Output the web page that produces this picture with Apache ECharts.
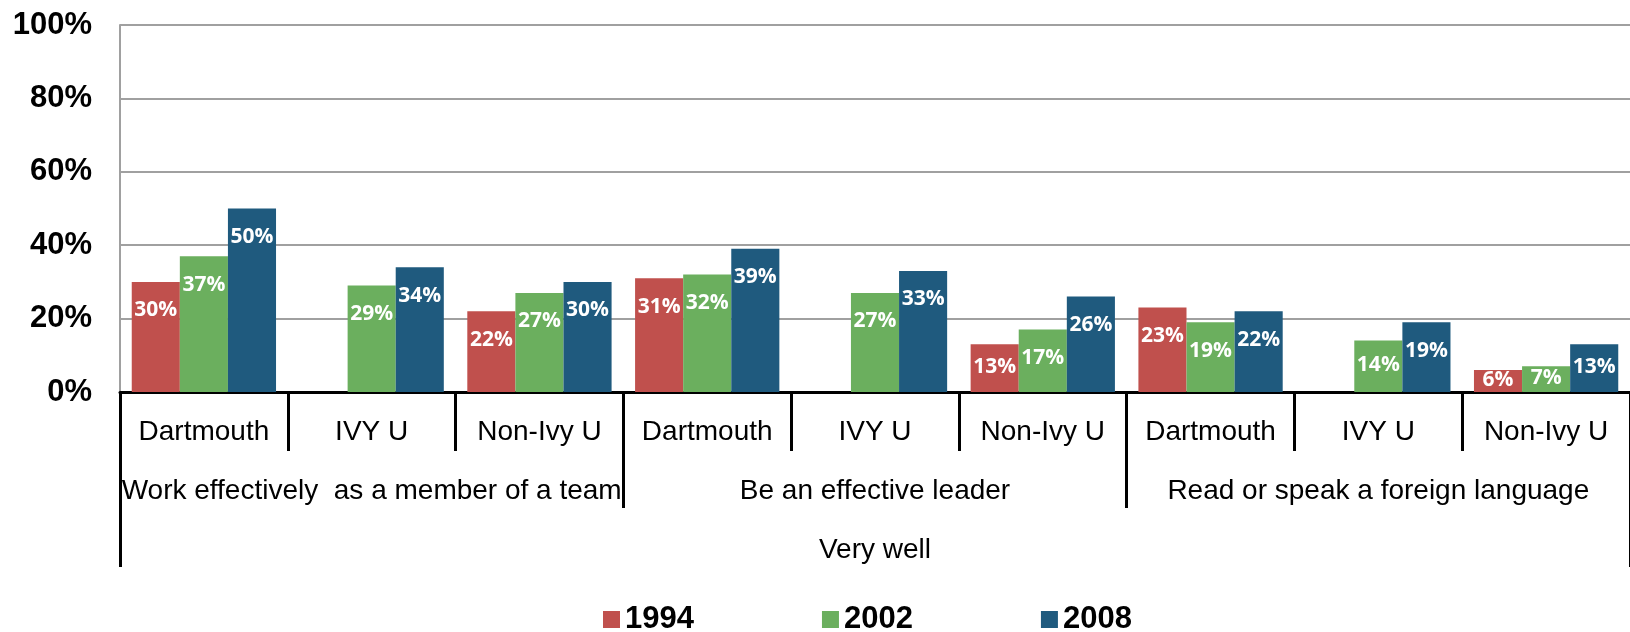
<!DOCTYPE html>
<html>
<head>
<meta charset="utf-8">
<title>Very well</title>
<script src="https://cdn.jsdelivr.net/npm/echarts@6/dist/echarts.min.js"></script>
<style>
    html, body { margin: 0; padding: 0; background: #fff; overflow: hidden; }
    #chart { width: 1630px; height: 632px; }
</style>
</head>
<body>
<div id="chart"></div>
<script>
// sub categories, groups and the outer level of the x axis
var schools = ['Dartmouth', 'IVY U', 'Non-Ivy U', 'Dartmouth', 'IVY U', 'Non-Ivy U', 'Dartmouth', 'IVY U', 'Non-Ivy U'];
var skills = ['Work effectively  as a member of a team', 'Be an effective leader', 'Read or speak a foreign language'];
var level = ['Very well'];

var years = ['1994', '2002', '2008'];
var values1994 = [30, null, 22, 31, null, 13, 23, null, 6];
var values2002 = [37, 29, 27, 32, 27, 17, 19, 14, 7];
var values2008 = [50, 34, 30, 39, 33, 26, 22, 19, 13];

var yTicks = [0, 20, 40, 60, 80, 100];

var colors = ['#C0504D', '#6BAF5E', '#1F5A7E'];
var sans = "'Liberation Sans', Arial, sans-serif";

/**
 * 标签位置: 矮柱子的标签往上靠
 */
function toData(values) {
    return values.map(function (v) {
        if (v === null) {
            return null;
        }
        let d = Math.max(0, Math.min(18, v * 3.67 / 2 - 12));
        return {value: v, label: {distance: d}};
    });
}

function barSeries(name, values, color) {
    return {
        name: name,
        type: 'bar',
        barGap: '0%',
        barCategoryGap: '14%',
        itemStyle: {color: color},
        label: {
            show: true,
            position: 'insideTop',
            distance: 18,
            color: '#fff',
            fontFamily: "'Open Sans', sans-serif",
            fontWeight: 'bold',
            fontSize: 21,
            formatter: '{c}%'
        },
        data: toData(values)
    };
}

let option = {
    animation: false,
    color: colors,
    grid: {
        left: 120,
        right: -10,
        top: 25,
        bottom: 240,
        containLabel: false
    },
    legend: {
        data: years,
        left: 603,
        top: 604,
        padding: 0,
        itemWidth: 17,
        itemHeight: 17,
        itemGap: 128,
        icon: 'rect',
        textStyle: {
            color: '#000',
            fontFamily: sans,
            fontWeight: 'bold',
            fontSize: 31
        }
    },
    xAxis: [
        {
            type: 'category',
            data: schools,
            position: 'bottom',
            axisLine: {lineStyle: {color: '#000', width: 3}},
            axisTick: {show: true, interval: 0, length: 59, lineStyle: {color: '#000', width: 3}},
            axisLabel: {interval: 0, margin: 26, color: '#000', fontFamily: sans, fontSize: 28}
        },
        {
            type: 'category',
            data: skills,
            position: 'bottom',
            axisLine: {show: false},
            axisTick: {show: true, interval: 0, length: 116, lineStyle: {color: '#000', width: 3}},
            axisLabel: {interval: 0, margin: 85, color: '#000', fontFamily: sans, fontSize: 28}
        },
        {
            type: 'category',
            data: level,
            position: 'bottom',
            axisLine: {show: false},
            axisTick: {show: true, interval: 0, length: 175, lineStyle: {color: '#000', width: 3}},
            axisLabel: {interval: 0, margin: 144, color: '#000', fontFamily: sans, fontSize: 28}
        }
    ],
    yAxis: {
        type: 'value',
        min: yTicks[0],
        max: yTicks[yTicks.length - 1],
        interval: yTicks[1] - yTicks[0],
        axisLine: {show: true, lineStyle: {color: '#A0A0A0', width: 2}},
        axisTick: {show: false},
        splitLine: {lineStyle: {color: '#A0A0A0', width: 2}},
        axisLabel: {
            margin: 28,
            color: '#000',
            fontFamily: sans,
            fontWeight: 'bold',
            fontSize: 31,
            formatter: '{value}%'
        }
    },
    series: [
        barSeries(years[0], values1994, colors[0]),
        barSeries(years[1], values2002, colors[1]),
        barSeries(years[2], values2008, colors[2])
    ]
};

var chart = echarts.init(document.getElementById('chart'));
chart.setOption(option);
</script>
</body>
</html>
